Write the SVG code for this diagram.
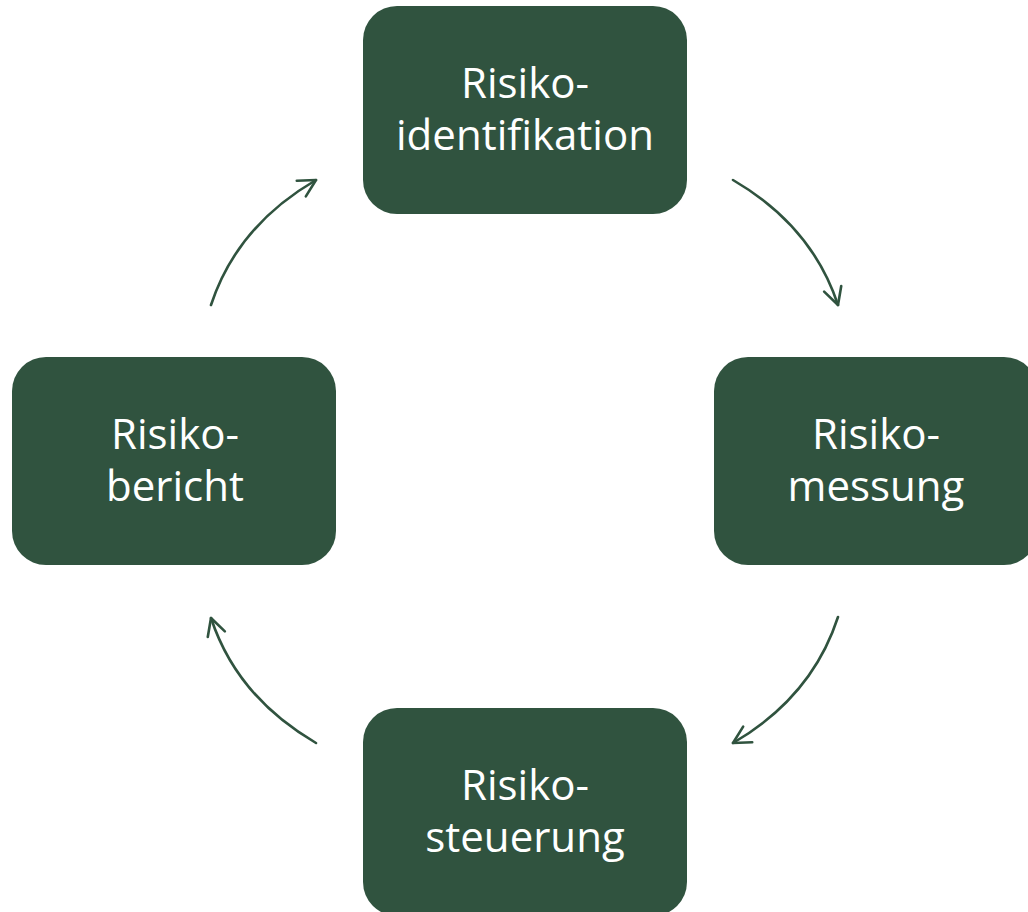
<svg xmlns="http://www.w3.org/2000/svg" width="1028" height="912" viewBox="0 0 1028 912">
<style>
.box{fill:#30533f}
.lbl{font-family:"Open Sans","Liberation Sans",sans-serif;font-size:42px;fill:#ffffff;text-anchor:middle}
.arc{fill:none;stroke:#30533f;stroke-width:2.6;stroke-linecap:round}
</style>
<defs>
<marker id="ah" markerUnits="userSpaceOnUse" viewBox="-22 -12 26 24" refX="0" refY="0" markerWidth="26" markerHeight="24" orient="auto" overflow="visible">
<path d="M-17,-9 L0,0 L-17,9" fill="none" stroke="#30533f" stroke-width="2.6" stroke-linecap="round" stroke-linejoin="round"/>
</marker>
</defs>
<rect width="1028" height="912" fill="#ffffff"/>
<g id="connectors">
<path class="arc" d="M733,180 Q812,226 838,305" marker-end="url(#ah)"/>
<path class="arc" d="M838,617 Q812,697 733,743" marker-end="url(#ah)"/>
<path class="arc" d="M316,743 Q237,697 211,618" marker-end="url(#ah)"/>
<path class="arc" d="M211,305 Q237,226 316,180" marker-end="url(#ah)"/>
</g>
<g id="node-identifikation">
<rect class="box" x="363" y="6" width="324" height="208" rx="34"/>
<text class="lbl"><tspan x="525" y="98">Risiko-</tspan><tspan x="525" y="150">identifikation</tspan></text>
</g>
<g id="node-messung">
<rect class="box" x="714" y="357" width="324" height="208" rx="34"/>
<text class="lbl"><tspan x="876" y="449">Risiko-</tspan><tspan x="876" y="501">messung</tspan></text>
</g>
<g id="node-steuerung">
<rect class="box" x="363" y="708" width="324" height="208" rx="34"/>
<text class="lbl"><tspan x="525" y="800">Risiko-</tspan><tspan x="525" y="852">steuerung</tspan></text>
</g>
<g id="node-bericht">
<rect class="box" x="12" y="357" width="324" height="208" rx="34"/>
<text class="lbl"><tspan x="175" y="449">Risiko-</tspan><tspan x="175" y="501">bericht</tspan></text>
</g>
</svg>
